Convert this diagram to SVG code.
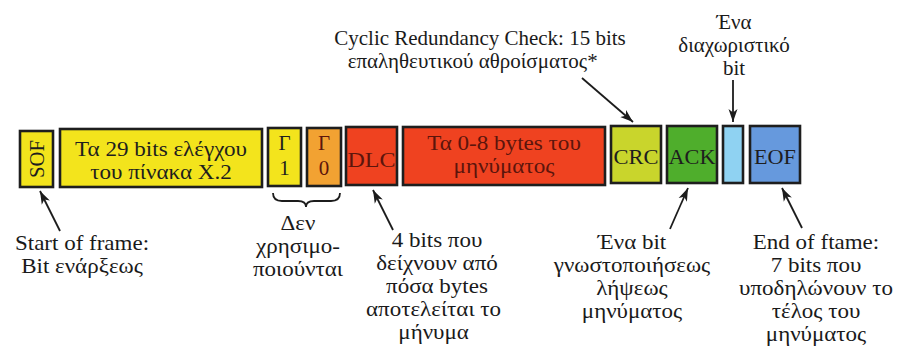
<svg xmlns="http://www.w3.org/2000/svg" width="899" height="349" viewBox="0 0 899 349" font-family="'Liberation Serif', 'DejaVu Serif', serif">
  <defs>
    <marker id="head" markerUnits="userSpaceOnUse" markerWidth="14" markerHeight="10" refX="13" refY="5" orient="auto">
      <path d="M0,0.5 L13,5 L0,9.5 L3.5,5 z" fill="#1c1c1c"/>
    </marker>
    <style>
      text{font-family:'Liberation Serif','DejaVu Serif',serif;text-anchor:middle}
      .box{stroke:#1e1e1e;stroke-width:2.6}
      .in{font-size:21px;fill:#1e1e1e}
      .red{fill:#5c150c}
      .lbl{font-size:20px;fill:#1a1a1a}
      .top{font-size:20px;fill:#1a1a1a}
      .con{stroke:#1c1c1c;stroke-width:1.8;fill:none}
    </style>
  </defs>
  <rect width="899" height="349" fill="#ffffff"/>

  <!-- frame fields -->
  <g id="sof">
    <rect class="box" x="20" y="131" width="33" height="56" fill="#f3e41c"/>
    <text class="in" transform="translate(44,159) rotate(-90)" font-size="25" textLength="38" lengthAdjust="spacingAndGlyphs">SOF</text>
  </g>
  <g id="arbitration">
    <rect class="box" x="60" y="129" width="202" height="58" fill="#f3e41c"/>
    <g transform="translate(161,0) scale(1.1,1)">
      <text class="in" x="0" y="156">Τα 29 bits ελέγχου</text>
      <text class="in" x="0" y="179">του πίνακα Χ.2</text>
    </g>
  </g>
  <g id="r1">
    <rect class="box" x="268" y="128" width="33" height="58" fill="#f3e41c"/>
    <text class="in" x="284.5" y="150" font-size="24">Γ</text>
    <text class="in" x="284.5" y="175" font-size="24">1</text>
  </g>
  <g id="r0">
    <rect class="box" x="307" y="128" width="34" height="58" fill="#f2a232"/>
    <text class="in red" x="324" y="150" font-size="24">Γ</text>
    <text class="in red" x="324" y="175" font-size="24">0</text>
  </g>
  <g id="dlc">
    <rect class="box" x="346" y="127" width="51" height="58" fill="#ef4220"/>
    <text class="in red" x="371.5" y="167" font-size="28" textLength="48" lengthAdjust="spacingAndGlyphs">DLC</text>
  </g>
  <g id="data">
    <rect class="box" x="403" y="127" width="202" height="58" fill="#ef4220"/>
    <g transform="translate(504,0) scale(1.1,1)">
      <text class="in red" x="0" y="150">Τα 0-8 bytes του</text>
      <text class="in red" x="0" y="173">μηνύματος</text>
    </g>
  </g>
  <g id="crc">
    <rect class="box" x="611" y="126" width="50" height="57" fill="#c9d52c"/>
    <text class="in" x="636" y="164" font-size="30" textLength="45" lengthAdjust="spacingAndGlyphs">CRC</text>
  </g>
  <g id="ack">
    <rect class="box" x="667" y="126" width="50" height="57" fill="#4fae2c"/>
    <text class="in" x="692" y="164" font-size="30" textLength="47" lengthAdjust="spacingAndGlyphs" fill="#173312">ACK</text>
  </g>
  <g id="delimiter">
    <rect class="box" x="723" y="126" width="20" height="57" fill="#8fd2f2"/>
  </g>
  <g id="eof">
    <rect class="box" x="750" y="126" width="50" height="57" fill="#6699dd"/>
    <text class="in" x="775" y="164" font-size="30" textLength="42" lengthAdjust="spacingAndGlyphs" fill="#14233f">EOF</text>
  </g>

  <!-- annotations -->
  <g id="note-crc" transform="translate(480,0) scale(1.05,1)">
    <text class="top" x="0" y="45">Cyclic Redundancy Check: 15 bits</text>
    <text class="top" x="-7" y="68">επαληθευτικού αθροίσματος*</text>
  </g>
  <g id="note-delimiter" transform="translate(734,0) scale(1.05,1)">
    <text class="top" x="0" y="29">Ένα</text>
    <text class="top" x="0" y="52">διαχωριστικό</text>
    <text class="top" x="0" y="75">bit</text>
  </g>
  <g id="note-sof" transform="translate(82,0) scale(1.15,1)">
    <text class="lbl" x="0" y="250">Start of frame:</text>
    <text class="lbl" x="0" y="273">Bit ενάρξεως</text>
  </g>
  <g id="note-reserved" transform="translate(298,0) scale(1.15,1)">
    <text class="lbl" x="0" y="230">Δεν</text>
    <text class="lbl" x="0" y="253">χρησιμο-</text>
    <text class="lbl" x="0" y="276">ποιούνται</text>
  </g>
  <g id="note-dlc" transform="translate(437,0) scale(1.15,1)">
    <text class="lbl" x="0" y="247">4 bits που</text>
    <text class="lbl" x="0" y="270">δείχνουν από</text>
    <text class="lbl" x="0" y="293">πόσα bytes</text>
    <text class="lbl" x="-3" y="316">αποτελείται το</text>
    <text class="lbl" x="-3" y="339">μήνυμα</text>
  </g>
  <g id="note-ack" transform="translate(632,0) scale(1.15,1)">
    <text class="lbl" x="0" y="249">Ένα bit</text>
    <text class="lbl" x="0" y="272">γνωστοποιήσεως</text>
    <text class="lbl" x="0" y="295">λήψεως</text>
    <text class="lbl" x="0" y="318">μηνύματος</text>
  </g>
  <g id="note-eof" transform="translate(816,0) scale(1.15,1)">
    <text class="lbl" x="0" y="249">End of ftame:</text>
    <text class="lbl" x="0" y="272">7 bits που</text>
    <text class="lbl" x="0" y="295">υποδηλώνουν το</text>
    <text class="lbl" x="0" y="318">τέλος του</text>
    <text class="lbl" x="0" y="341">μηνύματος</text>
  </g>

  <!-- connectors -->
  <g id="connectors">
    <path class="con" d="M60,231 L40,191" marker-end="url(#head)"/>
    <path class="con" d="M393,230 L373,190" marker-end="url(#head)"/>
    <path class="con" d="M670,229 L688,188" marker-end="url(#head)"/>
    <path class="con" d="M802,228 L782,188" marker-end="url(#head)"/>
    <path class="con" d="M582,78 L633,122" marker-end="url(#head)"/>
    <path class="con" d="M733,80 L733,122" marker-end="url(#head)"/>
    <path class="con" stroke-width="2.4" d="M273,193 Q273,201 282,201 L298,201 Q306,201 306,207 Q306,201 314,201 L331,201 Q340,201 340,193"/>
  </g>
</svg>
